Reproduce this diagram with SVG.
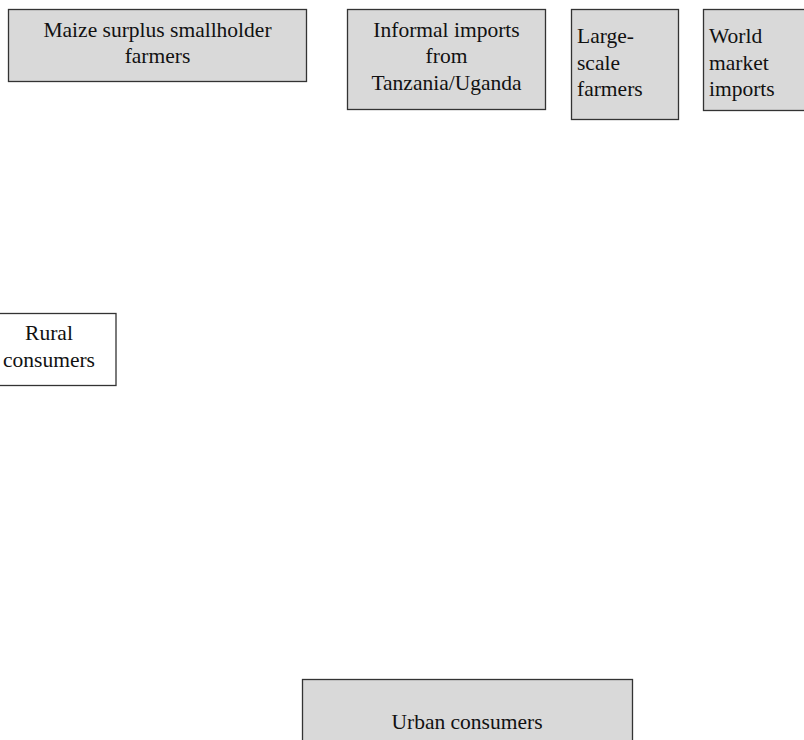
<svg xmlns="http://www.w3.org/2000/svg" width="804" height="740" viewBox="0 0 804 740">
  <style>
    .box { fill: #d9d9d9; stroke: #333333; stroke-width: 1.3; }
    .plain { fill: #ffffff; stroke: #333333; stroke-width: 1.3; }
    .lbl { font-family: "Liberation Serif", "Times New Roman", serif; font-size: 21.5px; fill: #111111; }
    .c { text-anchor: middle; }
  </style>
  <rect width="804" height="740" fill="#ffffff"/>

  <g id="maize-smallholders">
    <rect class="box" x="8.5" y="9.5" width="298" height="72"/>
    <text class="lbl c" x="157.5" y="37">Maize surplus smallholder</text>
    <text class="lbl c" x="157.5" y="63">farmers</text>
  </g>

  <g id="informal-imports">
    <rect class="box" x="347.5" y="9.5" width="198" height="100"/>
    <text class="lbl c" x="446.5" y="37">Informal imports</text>
    <text class="lbl c" x="446.5" y="63">from</text>
    <text class="lbl c" x="446.5" y="90">Tanzania/Uganda</text>
  </g>

  <g id="large-scale-farmers">
    <rect class="box" x="571.5" y="9.5" width="107" height="110"/>
    <text class="lbl" x="577" y="43">Large-</text>
    <text class="lbl" x="577" y="69.5">scale</text>
    <text class="lbl" x="577" y="96">farmers</text>
  </g>

  <g id="world-market-imports">
    <rect class="box" x="703.5" y="9.5" width="120" height="101"/>
    <text class="lbl" x="709" y="43">World</text>
    <text class="lbl" x="709" y="69.5">market</text>
    <text class="lbl" x="709" y="96">imports</text>
  </g>

  <g id="rural-consumers">
    <rect class="plain" x="-20" y="313.5" width="136" height="72"/>
    <text class="lbl c" x="49" y="340">Rural</text>
    <text class="lbl c" x="49" y="367">consumers</text>
  </g>

  <g id="urban-consumers">
    <rect class="box" x="302.5" y="679.5" width="330" height="80"/>
    <text class="lbl c" x="467" y="729">Urban consumers</text>
  </g>

  <g id="connectors"></g>
</svg>
